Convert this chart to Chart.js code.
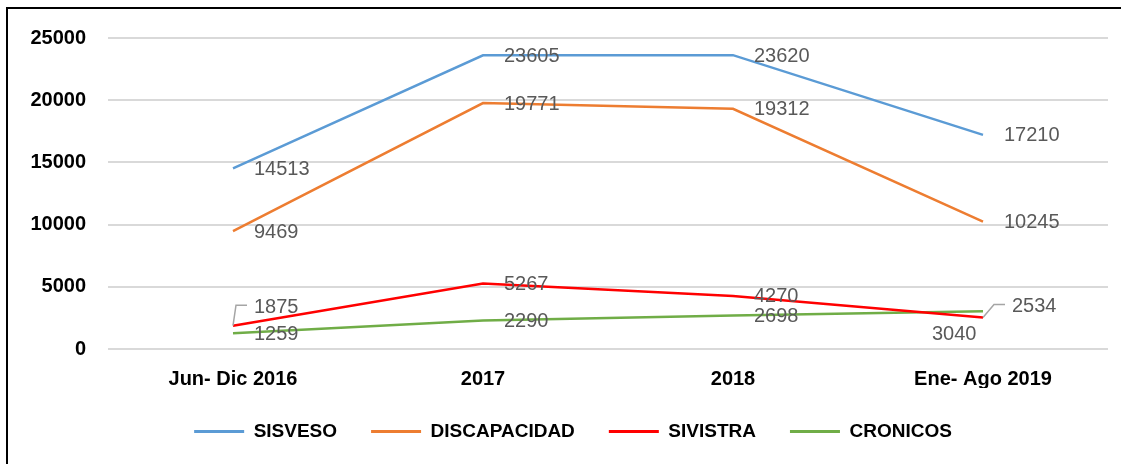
<!DOCTYPE html>
<html>
<head>
<meta charset="utf-8">
<script src="https://cdn.jsdelivr.net/npm/chart.js@4.4.0/dist/chart.umd.min.js"></script>
<style>
  html, body { margin: 0; padding: 0; background: #fff; }
  #wrap { position: relative; width: 1121px; height: 464px; overflow: hidden; }
  #frame {
    position: absolute; left: 6px; top: 7px; width: 1200px; height: 500px;
    border-left: 2px solid #000; border-top: 2px solid #000; pointer-events: none;
  }
</style>
</head>
<body>
<div id="wrap">
  <canvas id="casosChart"></canvas>
  <div id="frame"></div>
</div>
<script>
const periodos = ['Jun- Dic 2016', '2017', '2018', 'Ene- Ago 2019'];
const sisveso = [14513, 23605, 23620, 17210];
const discapacidad = [9469, 19771, 19312, 10245];
const sivistra = [1875, 5267, 4270, 2534];
const cronicos = [1259, 2290, 2698, 3040];
const yTicks = [0, 5000, 10000, 15000, 20000, 25000];

const FONT = '"Liberation Sans", Arial, sans-serif';

// labels moved by hand in the original (dataset-point)
const labelNudges = {
  '2-0': { dx: 21, dy: -18.5, leader: true },
  '2-3': { dx: 29, dy: -11, leader: true },
  '3-3': { dx: -51, dy: 23.5 },
};

const valueLabels = {
  id: 'valueLabels',
  afterLayout(chart) {
    // legend sits a bit right of centre in the original
    chart.legend.left += 19;
    chart.legend.right += 19;
  },
  afterDatasetsDraw(chart) {
    const ctx = chart.ctx;
    ctx.save();
    ctx.font = '20px ' + FONT;
    ctx.textBaseline = 'middle';
    ctx.textAlign = 'left';
    chart.data.datasets.forEach((ds, di) => {
      chart.getDatasetMeta(di).data.forEach((pt, i) => {
        const n = labelNudges[di + '-' + i] || { dx: 21, dy: 1 };
        const x = pt.x + n.dx;
        const y = pt.y + n.dy;
        if (n.leader) {
          ctx.strokeStyle = '#a5a5a5';
          ctx.lineWidth = 1.5;
          ctx.beginPath();
          ctx.moveTo(pt.x, pt.y);
          ctx.lineTo(x - 18, y - 2);
          ctx.lineTo(x - 7, y - 2);
          ctx.stroke();
        }
        ctx.fillStyle = '#595959';
        ctx.fillText(String(ds.data[i]), x, y);
      });
    });
    ctx.restore();
  }
};

function serie(label, values, color) {
  return {
    label: label,
    data: values,
    borderColor: color,
    backgroundColor: color,
    borderWidth: 2.5,
    pointRadius: 0,
    pointHoverRadius: 0,
    tension: 0,
  };
}

const ctx = document.getElementById('casosChart').getContext('2d');

new Chart(ctx, {
  type: 'line',
  data: {
    labels: periodos,
    datasets: [
      serie('SISVESO', sisveso, '#5B9BD5'),
      serie('DISCAPACIDAD', discapacidad, '#ED7D31'),
      serie('SIVISTRA', sivistra, '#FF0000'),
      serie('CRONICOS', cronicos, '#70AD47'),
    ],
  },
  options: {
    responsive: true,
    maintainAspectRatio: false,
    animation: false,
    layout: {
      padding: { left: 0, right: 13, top: 38, bottom: 13 }
    },
    plugins: {
      tooltip: { enabled: false },
      legend: {
        position: 'bottom',
        labels: {
          boxWidth: 50,
          boxHeight: 3,
          padding: 34,
          color: '#000',
          font: { family: FONT, size: 19, weight: 'bold' },
          generateLabels: (chart) =>
            Chart.defaults.plugins.legend.labels.generateLabels(chart)
              .map(l => ({ ...l, lineWidth: 0 })),
        }
      },
    },
    scales: {
      x: {
        offset: true,
        afterFit: (scale) => { scale.height = 39; },
        grid: { display: false, drawTicks: false },
        border: { display: false },
        ticks: {
          padding: 20,
          color: '#000',
          font: { family: FONT, size: 20, weight: 'bold', lineHeight: 1 },
        }
      },
      y: {
        min: 0,
        max: 25000,
        afterBuildTicks: (scale) => { scale.ticks = yTicks.map(v => ({ value: v })); },
        afterFit: (scale) => { scale.width = 108; },
        grid: { color: '#d9d9d9', lineWidth: 2, drawTicks: false },
        border: { display: false },
        ticks: {
          padding: 22,
          color: '#000',
          font: { family: FONT, size: 20, weight: 'bold' },
          callback: (v) => String(v),
        }
      }
    }
  },
  plugins: [valueLabels],
});
</script>
</body>
</html>
